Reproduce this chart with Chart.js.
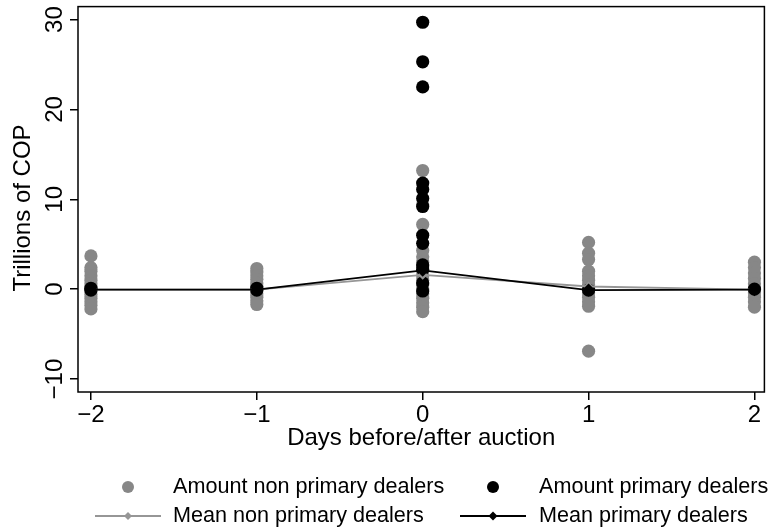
<!DOCTYPE html>
<html>
<head>
<meta charset="utf-8">
<script src="https://cdn.jsdelivr.net/npm/chart.js@4.4.1/dist/chart.umd.min.js"></script>
<style>
  html, body { margin: 0; padding: 0; background: #fff; }
  #wrap { width: 771px; height: 531px; }
</style>
</head>
<body>
<div id="wrap"><canvas id="c" width="771" height="531"></canvas></div>
<script>
// Days relative to the auction and axis tick values
const days = [-2, -1, 0, 1, 2];
const xTicks = [-2, -1, 0, 1, 2];
const yTicks = [-10, 0, 10, 20, 30];

// Individual amounts (trillions of COP), one list per day
const nonPrimaryAmounts = [
  [3.7, 2.4, 2.0, 1.5, 1.0, 0.6, 0.2, -0.2, -0.6, -1.0, -1.4, -1.8, -2.2],
  [2.3, 1.9, 1.5, 1.1, 0.7, 0.3, -0.1, -0.5, -0.9, -1.3, -1.7],
  [13.2, 9.4, 7.2, 4.3, 3.6, 3.0, 2.5, 2.0, 1.5, 1.0, 0.5, 0.0, -0.5, -1.0, -1.5, -2.0, -2.5],
  [5.2, 4.0, 3.3, 2.0, 1.5, 1.0, 0.5, 0.1, -0.4, -0.9, -1.4, -1.9, -6.9],
  [3.0, 2.4, 1.8, 1.2, 0.6, 0.1, -0.4, -0.9, -1.4, -2.0]
];
const primaryAmounts = [
  [0.1, -0.1],
  [0.1, -0.1],
  [29.7, 25.3, 22.5, 11.8, 11.1, 10.1, 9.2, 6.0, 5.1, 2.7, 2.2, 0.7, -0.2],
  [-0.1],
  [0.0]
];

// Daily means
const meanNonPrimary = [-0.05, -0.05, 1.6, 0.3, -0.05];
const meanPrimary = [-0.05, -0.05, 2.1, -0.1, -0.05];

const seriesNames = [
  'Amount non primary dealers',
  'Amount primary dealers',
  'Mean non primary dealers',
  'Mean primary dealers'
];
const xTitle = 'Days before/after auction';
const yTitle = 'Trillions of COP';

const FONT = "'Liberation Sans', Arial, Helvetica, sans-serif";
const GRAY_DOT = '#878787';
const GRAY_LINE = '#969696';

const toPoints = lists => days.flatMap((d, i) => lists[i].map(v => ({ x: d, y: v })));
const meanPoints = arr => days.map((d, i) => ({ x: d, y: arr[i] }));
const fmt = v => (v < 0 ? '\u2212' + Math.abs(v) : String(v));

// Rotated y tick labels and title, full plot frame and the two-column legend
const decor = {
  id: 'decor',
  afterDraw(chart) {
    const { ctx, chartArea: a, scales } = chart;
    ctx.save();
    ctx.strokeStyle = '#000';
    ctx.lineWidth = 1.5;
    ctx.strokeRect(a.left, a.top, a.right - a.left, a.bottom - a.top);

    ctx.fillStyle = '#000';
    ctx.font = '24px ' + FONT;
    ctx.textAlign = 'center';
    ctx.textBaseline = 'alphabetic';
    yTicks.forEach(v => {
      const py = scales.y.getPixelForValue(v);
      ctx.save();
      ctx.translate(62, py);
      ctx.rotate(-Math.PI / 2);
      ctx.fillText(fmt(v), 0, 0);
      ctx.restore();
    });
    ctx.save();
    ctx.translate(30, 208);
    ctx.rotate(-Math.PI / 2);
    ctx.fillText(yTitle, 0, 0);
    ctx.restore();

    // legend
    const rows = [487, 516];
    const cols = [{ key: 128, text: 173 }, { key: 493, text: 539 }];
    ctx.font = '21.6px ' + FONT;
    ctx.textAlign = 'left';
    ctx.textBaseline = 'middle';
    const dot = (x, y, c) => { ctx.fillStyle = c; ctx.beginPath(); ctx.arc(x, y, 6, 0, Math.PI * 2); ctx.fill(); };
    const lineKey = (x, y, c, r) => {
      ctx.strokeStyle = c; ctx.lineWidth = 1.8;
      ctx.beginPath(); ctx.moveTo(x - 33, y); ctx.lineTo(x + 33, y); ctx.stroke();
      ctx.fillStyle = c; ctx.beginPath();
      ctx.moveTo(x, y - r); ctx.lineTo(x + r, y); ctx.lineTo(x, y + r); ctx.lineTo(x - r, y); ctx.closePath(); ctx.fill();
    };
    dot(cols[0].key, rows[0], GRAY_DOT);
    dot(cols[1].key, rows[0], '#000');
    lineKey(cols[0].key, rows[1], GRAY_LINE, 4);
    lineKey(cols[1].key, rows[1], '#000', 4.5);
    ctx.fillStyle = '#000';
    ctx.fillText(seriesNames[0], cols[0].text, rows[0]);
    ctx.fillText(seriesNames[1], cols[1].text, rows[0]);
    ctx.fillText(seriesNames[2], cols[0].text, rows[1]);
    ctx.fillText(seriesNames[3], cols[1].text, rows[1]);
    ctx.restore();
  }
};

new Chart(document.getElementById('c'), {
  type: 'scatter',
  data: {
    datasets: [
      {
        label: seriesNames[3], data: meanPoints(meanPrimary), showLine: true,
        borderColor: '#000', borderWidth: 1.8, pointStyle: 'rectRot', pointRadius: 6.5,
        pointBackgroundColor: '#000', pointBorderWidth: 0, order: 0
      },
      {
        label: seriesNames[2], data: meanPoints(meanNonPrimary), showLine: true,
        borderColor: GRAY_LINE, borderWidth: 1.8, pointStyle: 'rectRot', pointRadius: 5,
        pointBackgroundColor: GRAY_LINE, pointBorderWidth: 0, order: 1
      },
      {
        label: seriesNames[1], data: toPoints(primaryAmounts),
        pointRadius: 6.6, pointBackgroundColor: '#000', pointBorderWidth: 0, order: 2
      },
      {
        label: seriesNames[0], data: toPoints(nonPrimaryAmounts),
        pointRadius: 6.6, pointBackgroundColor: GRAY_DOT, pointBorderWidth: 0, order: 3
      }
    ]
  },
  options: {
    responsive: false,
    animation: false,
    devicePixelRatio: 1,
    layout: { padding: { top: 6, right: 4, left: 0, bottom: 0 } },
    plugins: { legend: { display: false }, tooltip: { enabled: false } },
    scales: {
      x: {
        type: 'linear', min: -2.078, max: 2.06,
        afterBuildTicks: s => { s.ticks = xTicks.map(v => ({ value: v })); },
        afterFit: s => { s.height = 139; },
        ticks: { font: { family: FONT, size: 24 }, color: '#000', padding: 1, maxRotation: 0, autoSkip: false, callback: fmt },
        grid: { drawOnChartArea: false, drawTicks: true, tickLength: 8, color: '#000', lineWidth: 1.5 },
        border: { display: false },
        title: { display: true, text: xTitle, color: '#000', font: { family: FONT, size: 24 }, padding: { top: 0, bottom: 78 } }
      },
      y: {
        type: 'linear', min: -11.44, max: 31.44,
        afterBuildTicks: s => { s.ticks = yTicks.map(v => ({ value: v })); },
        afterFit: s => { s.width = 78; },
        ticks: { display: false },
        grid: { drawOnChartArea: false, drawTicks: true, tickLength: 8, color: '#000', lineWidth: 1.5 },
        border: { display: false },
        title: { display: false }
      }
    }
  },
  plugins: [decor]
});
</script>
</body>
</html>
